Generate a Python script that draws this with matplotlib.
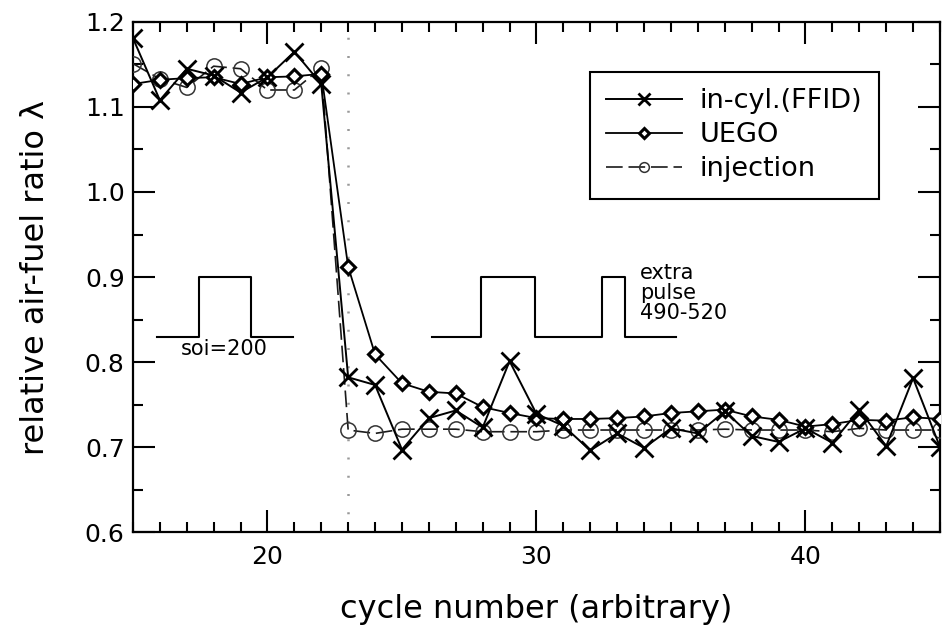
import matplotlib
matplotlib.use("Agg")
import matplotlib.pyplot as plt
from matplotlib.lines import Line2D
from matplotlib.ticker import MultipleLocator

plt.rcParams['font.family'] = ['DejaVu Sans']

# lambda traces per engine cycle
cycles = list(range(15, 46))
ffid = [1.181, 1.108, 1.145, 1.137, 1.117, 1.135, 1.165, 1.127, 0.782, 0.773,
        0.697, 0.734, 0.743, 0.723, 0.801, 0.739, 0.725, 0.696, 0.716, 0.699,
        0.722, 0.716, 0.742, 0.713, 0.706, 0.722, 0.705, 0.744, 0.701, 0.781, 0.700]
uego = [1.127, 1.132, 1.134, 1.135, 1.127, 1.135, 1.136, 1.139, 0.912, 0.809,
        0.775, 0.765, 0.763, 0.747, 0.740, 0.734, 0.733, 0.733, 0.734, 0.736,
        0.740, 0.742, 0.744, 0.736, 0.732, 0.724, 0.727, 0.732, 0.731, 0.735, 0.733]
injection = [1.151, 1.133, 1.123, 1.148, 1.145, 1.120, 1.120, 1.146, 0.720, 0.716,
             0.721, 0.721, 0.721, 0.718, 0.718, 0.718, 0.720, 0.720, 0.720, 0.720,
             0.720, 0.720, 0.721, 0.720, 0.720, 0.720, 0.718, 0.722, 0.720, 0.720, 0.720]
switch_cycle = 23

# injection timing sketches
pulse1_x = [15.9, 17.45, 17.45, 19.4, 19.4, 20.95]
pulse1_y = [0.83, 0.83, 0.90, 0.90, 0.83, 0.83]
pulse2_x = [26.1, 27.95, 27.95, 29.95, 29.95, 32.45, 32.45, 33.3, 33.3, 35.2]
pulse2_y = [0.83, 0.83, 0.90, 0.90, 0.83, 0.83, 0.90, 0.90, 0.83, 0.83]

fig = plt.figure(figsize=(9.47, 6.39), dpi=100)
ax = fig.add_axes([0.1404, 0.1674, 0.8522, 0.7982])

ax.axvline(switch_cycle, color='#999999', lw=1.8, ls=(0, (0.8, 6.5)), zorder=1)

inj_style = dict(color='#1a1a1a', lw=1.2, ls=(0, (10, 3.5)), marker='o',
                 mfc='none', mec='#333333', mew=1.1)
uego_style = dict(color='black', lw=1.3, marker='D', mfc='white',
                  mec='black', mew=2.2)
ffid_style = dict(color='black', lw=1.4, marker='x', mec='black', mew=2.0)

ax.plot(cycles, injection, ms=11, zorder=3, **inj_style)
ax.plot(cycles, uego, ms=7, zorder=4, **uego_style)
ax.plot(cycles, ffid, ms=13, zorder=5, **ffid_style)

ax.plot(pulse1_x, pulse1_y, color='black', lw=1.5)
ax.plot(pulse2_x, pulse2_y, color='black', lw=1.5)
ax.text(18.4, 0.815, 'soi=200', fontsize=15, ha='center', va='center')
ax.text(33.85, 0.917, 'extra\npulse\n490-520', fontsize=15, ha='left', va='top',
        linespacing=1.0)

ax.set_xlim(15, 45)
ax.set_ylim(0.6, 1.2)
ax.xaxis.set_major_locator(MultipleLocator(10))
ax.xaxis.set_minor_locator(MultipleLocator(1))
ax.yaxis.set_major_locator(MultipleLocator(0.1))
ax.yaxis.set_minor_locator(MultipleLocator(0.05))
ax.yaxis.set_major_formatter(plt.FormatStrFormatter('%.1f'))
ax.tick_params(which='both', direction='in', top=True, right=True, width=1.5,
               labelsize=18)
ax.tick_params(which='major', length=16)
ax.tick_params(which='minor', length=7)
ax.tick_params(axis='x', which='major', pad=9)
ax.tick_params(axis='y', which='major', pad=6)
for s in ax.spines.values():
    s.set_linewidth(1.6)

ax.set_xlabel('cycle number (arbitrary)', fontsize=23, labelpad=18)
ax.set_ylabel('relative air-fuel ratio λ', fontsize=23, labelpad=24)

handles = [
    Line2D([], [], ms=9, **ffid_style),
    Line2D([], [], ms=5, **uego_style),
    Line2D([], [], ms=7, **inj_style),
]
leg = ax.legend(handles, ['in-cyl.(FFID)', 'UEGO', 'injection'], loc='upper right',
                bbox_to_anchor=(0.924, 0.902), borderaxespad=0, fontsize=19.5,
                handlelength=2.8, handletextpad=0.65, labelspacing=0.3,
                borderpad=0.6, fancybox=False, framealpha=1)
leg.get_frame().set_edgecolor('black')
leg.get_frame().set_linewidth(1.5)

fig.savefig('out.png', dpi=100)
